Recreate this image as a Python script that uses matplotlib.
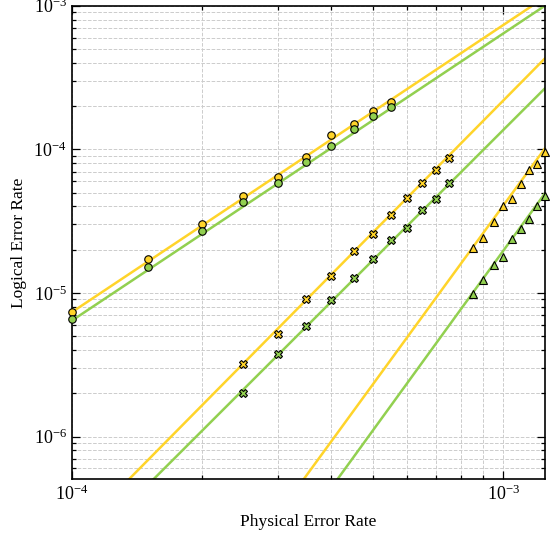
import numpy as np
import matplotlib
matplotlib.use("Agg")
import matplotlib.pyplot as plt
from matplotlib.ticker import LogLocator, NullFormatter

plt.rcParams['font.family'] = ['Liberation Serif', 'DejaVu Serif']
plt.rcParams['mathtext.fontset'] = 'stix'

YELLOW = '#FFD42A'
GREEN = '#92D050'

# circle series
p_circ = [1.0e-4, 1.5e-4, 2.0e-4, 2.5e-4, 3.0e-4, 3.5e-4, 4.0e-4, 4.5e-4, 5.0e-4, 5.5e-4]
circ_yellow = [7.40e-6, 1.71e-5, 3.00e-5, 4.75e-5, 6.45e-5, 8.80e-5, 1.257e-4, 1.493e-4, 1.839e-4, 2.135e-4]
circ_green = [6.58e-6, 1.52e-5, 2.70e-5, 4.28e-5, 5.80e-5, 8.19e-5, 1.049e-4, 1.378e-4, 1.714e-4, 1.980e-4]

# cross series
p_cross = [2.5e-4, 3.0e-4, 3.5e-4, 4.0e-4, 4.5e-4, 5.0e-4, 5.5e-4, 6.0e-4, 6.5e-4, 7.0e-4, 7.5e-4]
cross_yellow = [3.18e-6, 5.17e-6, 9.02e-6, 1.317e-5, 1.958e-5, 2.585e-5, 3.504e-5, 4.558e-5, 5.80e-5, 7.21e-5, 8.74e-5]
cross_green = [2.02e-6, 3.74e-6, 5.86e-6, 8.92e-6, 1.264e-5, 1.714e-5, 2.336e-5, 2.844e-5, 3.779e-5, 4.507e-5, 5.80e-5]

# triangle series
p_tri = [8.5e-4, 9.0e-4, 9.5e-4, 1.0e-3, 1.05e-3, 1.1e-3, 1.15e-3, 1.2e-3, 1.25e-3]
tri_yellow = [2.04e-5, 2.42e-5, 3.13e-5, 4.03e-5, 4.51e-5, 5.73e-5, 7.17e-5, 7.86e-5, 9.53e-5]
tri_green = [9.87e-6, 1.23e-5, 1.56e-5, 1.78e-5, 2.36e-5, 2.80e-5, 3.27e-5, 4.03e-5, 4.73e-5]

# fit lines (endpoints)
fit_x = [1.0e-4, 1.25e-3]
fit_circ_yellow = [7.33e-6, 1.145e-3]
fit_circ_green = [6.40e-6, 1.0e-3]
fit_cross_yellow = [1.99e-7, 4.30e-4]
fit_cross_green = [1.36e-7, 2.66e-4]
fit_tri_yellow = [3.07e-9, 1.016e-4]
fit_tri_green = [1.42e-9, 4.94e-5]

fig = plt.figure(figsize=(5.58, 5.34), dpi=100)
ax = fig.add_axes([71.7/558, 1-479/534, (545-71.7)/558, (479-5.7)/534])

lw = 1.8
ax.plot(fit_x, fit_circ_yellow, color=YELLOW, lw=lw, zorder=2)
ax.plot(fit_x, fit_circ_green, color=GREEN, lw=lw, zorder=2)
ax.plot(fit_x, fit_cross_yellow, color=YELLOW, lw=lw, zorder=2)
ax.plot(fit_x, fit_cross_green, color=GREEN, lw=lw, zorder=2)
ax.plot(fit_x, fit_tri_yellow, color=YELLOW, lw=lw, zorder=2)
ax.plot(fit_x, fit_tri_green, color=GREEN, lw=lw, zorder=2)

mk = dict(linestyle='none', markeredgecolor='black', markeredgewidth=0.8, zorder=3, clip_on=False)
ax.plot(p_circ, circ_yellow, marker='o', ms=5.4, color=YELLOW, **mk)
ax.plot(p_circ, circ_green, marker='o', ms=5.4, color=GREEN, **mk)
ax.plot(p_cross, cross_yellow, marker='X', ms=6.4, color=YELLOW, **mk)
ax.plot(p_cross, cross_green, marker='X', ms=6.4, color=GREEN, **mk)
ax.plot(p_tri, tri_yellow, marker='^', ms=6.0, color=YELLOW, **mk)
ax.plot(p_tri, tri_green, marker='^', ms=6.0, color=GREEN, **mk)

ax.set_xscale('log')
ax.set_yscale('log')
ax.set_xlim(1e-4, 1.25e-3)
ax.set_ylim(5.06e-7, 1e-3)

ax.xaxis.set_major_locator(LogLocator(base=10, numticks=10))
ax.xaxis.set_minor_locator(LogLocator(base=10, subs=np.arange(2, 10), numticks=20))
ax.yaxis.set_major_locator(LogLocator(base=10, numticks=10))
ax.yaxis.set_minor_locator(LogLocator(base=10, subs=np.arange(2, 10), numticks=20))
ax.xaxis.set_minor_formatter(NullFormatter())
ax.yaxis.set_minor_formatter(NullFormatter())

ax.tick_params(which='both', direction='in', top=True, right=True, labelsize=13, width=0.9)
ax.tick_params(which='major', length=6)
ax.tick_params(which='minor', length=3)
ax.tick_params(axis='x', which='major', pad=4)
for s in ax.spines.values():
    s.set_linewidth(1.2)

ax.grid(True, which='both', linestyle='--', color='#cccccc', linewidth=0.7, zorder=0)
ax.set_axisbelow(True)

ax.set_xlabel('Physical Error Rate', fontsize=12.5, labelpad=7)
ax.set_ylabel('Logical Error Rate', fontsize=12.5, labelpad=5)

fig.savefig('out.png', dpi=100)
